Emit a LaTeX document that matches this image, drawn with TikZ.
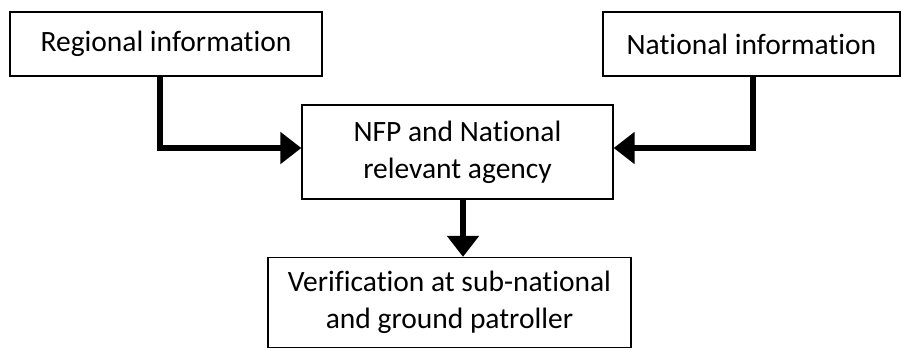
\documentclass[tikz,border=0pt]{standalone}
\usepackage{fontspec}
\setmainfont[RawFeature={-liga;-clig;-dlig}]{Carlito}
\usetikzlibrary{arrows.meta}
\begin{document}
\begin{tikzpicture}[x=1pt,y=-1pt,
  box/.style={draw=black, line width=1.3pt, fill=white, align=center, inner sep=0pt,
    font=\fontsize{29.5pt}{37pt}\selectfont},
  conn/.style={line width=6pt, line join=miter, -{Triangle[length=21pt,width=31pt]}}]
\useasboundingbox (0,0) rectangle (903,349);
\node[box, minimum width=312pt, minimum height=64pt] (reg) at (166,44) {Regional information};
\node[box, minimum width=297pt, minimum height=64pt] (nat) at (751.5,44) {National information};
\node[box, minimum width=311pt, minimum height=94pt] (nfp) at (457.5,152) {NFP and National\\relevant agency};
\node[box, minimum width=363pt, minimum height=90pt] (ver) at (449.5,302.5) {Verification at sub-national\\and ground patroller};
\draw[conn] ([xshift=-6pt]reg.south) |- ([yshift=4pt]nfp.west);
\draw[conn] ([xshift=1.5pt]nat.south) |- ([yshift=4pt]nfp.east);
\draw[conn] ([xshift=5.5pt]nfp.south) -- ([xshift=5.5pt]nfp.south |- ver.north);
\end{tikzpicture}
\end{document}
